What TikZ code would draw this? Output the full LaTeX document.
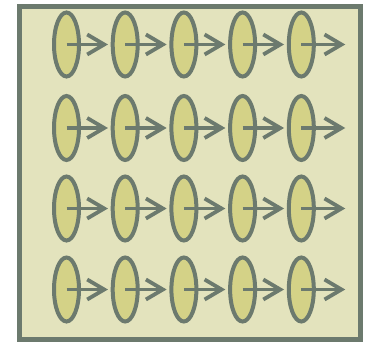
\documentclass[tikz,border=0pt]{standalone}
\usetikzlibrary{shapes.geometric}
\definecolor{bgk}{RGB}{227,227,189}
\definecolor{ellf}{RGB}{212,210,135}
\definecolor{strk}{RGB}{108,122,110}
\tikzset{
  cell/.style={ellipse, draw=strk, fill=ellf, line width=4pt, minimum width=25pt, minimum height=64pt, inner sep=0pt},
  link/.style={draw=strk, line width=3.8pt},
  barb/.style={draw=strk, line width=3.8pt, line join=miter},
  frame/.style={draw=strk, fill=bgk, line width=5pt}
}
\begin{document}
\begin{tikzpicture}[x=1pt,y=-1pt]
\useasboundingbox (0,0) rectangle (369,342);
\draw[frame] (19.5,6.5) rectangle (360,339.5);
\foreach \r/\y in {1/44.5,2/128,3/208.5,4/289.5}{
  \foreach \c/\x in {1/66.5,2/125.2,3/183.9,4/242.6,5/301.3}{
    \node[cell] (e\r\c) at (\x,\y) {};
  }
  \coordinate (t\r6) at (341.5,\y);
}
\foreach \r in {1,2,3,4}{
  \foreach \c/\n in {1/2,2/3,3/4,4/5}{
    \coordinate (t\r\n) at ([xshift=-6.5pt]e\r\n.west);
  }
  \foreach \c/\n in {1/2,2/3,3/4,4/5,5/6}{
    \draw[link] (e\r\c.center) -- (t\r\n);
    \draw[barb] ([shift={(-17,-10)}]t\r\n) -- (t\r\n) -- ([shift={(-17,10)}]t\r\n);
  }
}
\end{tikzpicture}
\end{document}
